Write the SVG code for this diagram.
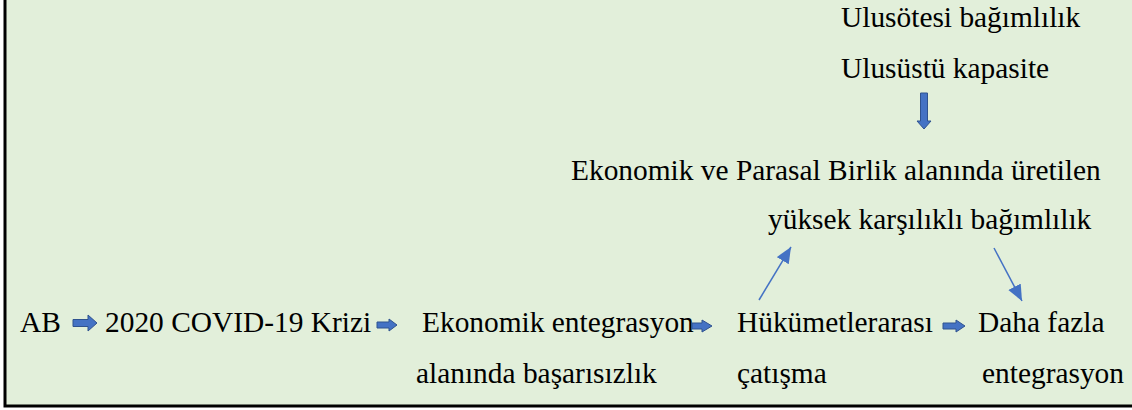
<svg xmlns="http://www.w3.org/2000/svg" width="1132" height="410" viewBox="0 0 1132 410">
<defs>
<style>
.t{font-family:"Liberation Serif","Times New Roman",serif;font-size:29.4px;fill:#000}
.blk{fill:#4472C4;stroke:#2F528F;stroke-width:1}
.ln{stroke:#4472C4;stroke-width:1.5;fill:none;marker-end:url(#ah)}
</style>
<marker id="ah" markerUnits="userSpaceOnUse" markerWidth="18" markerHeight="16" refX="16" refY="7" orient="auto">
<path d="M0,0 L16,7 L0,14 z" fill="#4472C4"/>
</marker>
</defs>
<rect x="5" y="-10" width="1140" height="416" fill="#E2EFDA" stroke="#000" stroke-width="3"/>
<g id="n-ulusotesi"><text class="t" x="841" y="27">Ulusötesi bağımlılık</text></g>
<g id="n-ulusustu"><text class="t" x="841" y="78">Ulusüstü kapasite</text></g>
<g id="n-emu"><text class="t" x="571" y="180">Ekonomik ve Parasal Birlik alanında üretilen</text><text class="t" x="768" y="229">yüksek karşılıklı bağımlılık</text></g>
<g id="n-ab"><text class="t" x="20" y="332">AB</text></g>
<g id="n-covid"><text class="t" x="105" y="332">2020 COVID-19 Krizi</text></g>
<g id="n-ekonomik"><text class="t" x="422" y="332">Ekonomik entegrasyon</text><text class="t" x="416" y="383">alanında başarısızlık</text></g>
<g id="n-hukumet"><text class="t" x="737" y="332">Hükümetlerarası</text><text class="t" x="737" y="383">çatışma</text></g>
<g id="n-daha"><text class="t" x="978" y="332">Daha fazla</text><text class="t" x="982" y="383">entegrasyon</text></g>
<g id="connectors">
<polygon class="blk" points="73,319.5 88,319.5 88,315 97,323 88,331 88,326.5 73,326.5"/>
<polygon class="blk" points="377,322 389,322 389,319 397,325 389,331 389,328 377,328"/>
<polygon class="blk" points="692,323 702,323 702,320 712,326 702,332 702,329 692,329"/>
<polygon class="blk" points="943,323 956,323 956,320 965,326 956,332 956,329 943,329"/>
<polygon class="blk" points="920.5,93 927.5,93 927.5,121 931,121 924,129 917,121 920.5,121"/>
<line class="ln" x1="759" y1="300" x2="791" y2="247"/>
<line class="ln" x1="994" y1="248" x2="1022" y2="301"/>
</g>
</svg>
